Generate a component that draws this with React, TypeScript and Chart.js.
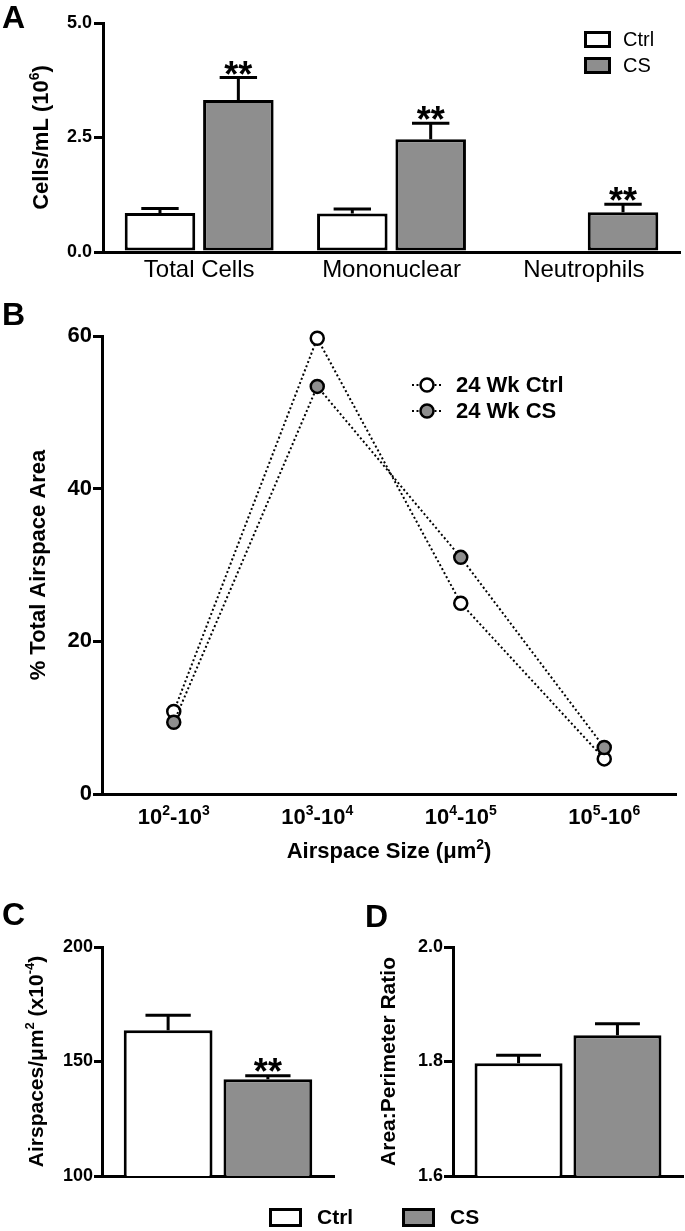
import React, { useEffect, useRef } from "react";
import { Chart, registerables } from "chart.js";

Chart.register(...registerables);

const FONT = '"Liberation Sans", Arial, Helvetica, sans-serif';
const GRAY = "#8e8e8e";
const BLACK = "#000000";

// ---------- Panel A: BAL cell counts ----------
const cellCategories = ["Total Cells", "Mononuclear", "Neutrophils"];
const cellCtrl = [0.85, 0.84, 0];
const cellCtrlErr = [0.1, 0.1, 0];
const cellCS = [3.32, 2.46, 0.87];
const cellCSErr = [0.49, 0.35, 0.17];
const cellCSSig = ["**", "**", "**"];
const cellTicks = [0, 2.5, 5];

// ---------- Panel B: airspace size distribution ----------
const sizeCategories = ["10²-10³", "10³-10⁴", "10⁴-10⁵", "10⁵-10⁶"];
const areaCtrl = [10.8, 59.7, 25.0, 4.6];
const areaCS = [9.4, 53.4, 31.0, 6.1];
const areaTicks = [0, 20, 40, 60];

// ---------- Panel C: airspace density ----------
const singleCategory = [""];
const densityCtrl = [163.7];
const densityCtrlErr = [6.5];
const densityCS = [142.2];
const densityCSErr = [1.6];
const densityCSSig = ["**"];
const densityTicks = [100, 150, 200];

// ---------- Panel D: area:perimeter ratio ----------
const ratioCtrl = [1.797];
const ratioCtrlErr = [0.014];
const ratioCS = [1.846];
const ratioCSErr = [0.02];
const ratioTicks = [1.6, 1.8, 2.0];

const font = (size: number, bold = true) => ({ family: FONT, size, weight: bold ? "bold" : "normal" } as any);

// ---- rich text (superscripts drawn as raised small digits) ----
const SUP: Record<string, string> = {
  "⁰": "0", "¹": "1", "²": "2", "³": "3", "⁴": "4", "⁵": "5",
  "⁶": "6", "⁷": "7", "⁸": "8", "⁹": "9", "⁻": "-",
};

function drawRich(
  ctx: CanvasRenderingContext2D, text: string, x: number, y: number,
  size: number, bold: boolean, align: "center" | "left", rotation = 0
) {
  const segs: { t: string; sup: boolean }[] = [];
  for (const ch of Array.from(text)) {
    const sup = ch in SUP;
    const t = sup ? SUP[ch] : ch;
    const last = segs[segs.length - 1];
    if (last && last.sup === sup) last.t += t;
    else segs.push({ t, sup });
  }
  const baseF = `${bold ? "bold " : ""}${size}px ${FONT}`;
  const supSize = Math.round(size * 0.64);
  const supF = `${bold ? "bold " : ""}${supSize}px ${FONT}`;
  let total = 0;
  const widths = segs.map((s) => {
    ctx.font = s.sup ? supF : baseF;
    const w = ctx.measureText(s.t).width;
    total += w;
    return w;
  });
  ctx.save();
  ctx.translate(x, y);
  ctx.rotate(rotation);
  ctx.fillStyle = BLACK;
  ctx.textAlign = "left";
  ctx.textBaseline = "alphabetic";
  let cx = align === "center" ? -total / 2 : 0;
  const baseY = size * 0.36;
  segs.forEach((s, i) => {
    ctx.font = s.sup ? supF : baseF;
    ctx.fillText(s.t, cx, s.sup ? baseY - size * 0.42 : baseY);
    cx += widths[i];
  });
  ctx.restore();
}

function richAxisText(cfg: {
  yTitle?: { text: string; x: number; size: number };
  xTitle?: { text: string; y: number; size: number };
  xTicks?: { y: number; size: number };
}) {
  return {
    id: "richAxisText",
    afterDraw(chart: any) {
      const ctx = chart.ctx;
      const a = chart.chartArea;
      if (cfg.yTitle) {
        drawRich(ctx, cfg.yTitle.text, cfg.yTitle.x, (a.top + a.bottom) / 2, cfg.yTitle.size, true, "center", -Math.PI / 2);
      }
      if (cfg.xTitle) {
        drawRich(ctx, cfg.xTitle.text, (a.left + a.right) / 2, cfg.xTitle.y, cfg.xTitle.size, true, "center");
      }
      if (cfg.xTicks) {
        const xs = chart.scales.x;
        chart.data.labels.forEach((lab: string, i: number) => {
          drawRich(ctx, lab, xs.getPixelForTick(i), cfg.xTicks!.y, cfg.xTicks!.size, true, "center");
        });
      }
    },
  };
}

function errorBars(cfg: { sigSize: number; sigShift: number; capRatio: number }) {
  return {
    id: "errorBars",
    afterDatasetsDraw(chart: any) {
      const ctx = chart.ctx;
      const yScale = chart.scales.y;
      chart.data.datasets.forEach((ds: any, di: number) => {
        if (!ds.errors) return;
        const meta = chart.getDatasetMeta(di);
        meta.data.forEach((el: any, i: number) => {
          const v = ds.data[i];
          if (v == null) return;
          const e = ds.errors[i] || 0;
          const topY = yScale.getPixelForValue(v + e);
          ctx.save();
          ctx.strokeStyle = BLACK;
          ctx.lineWidth = 3;
          if (e > 0) {
            const half = el.width * cfg.capRatio;
            ctx.beginPath();
            ctx.moveTo(el.x, el.y);
            ctx.lineTo(el.x, topY);
            ctx.moveTo(el.x - half, topY);
            ctx.lineTo(el.x + half, topY);
            ctx.stroke();
          }
          const s = ds.sig ? ds.sig[i] : null;
          if (s) {
            ctx.fillStyle = BLACK;
            ctx.font = `bold ${cfg.sigSize}px ${FONT}`;
            ctx.textAlign = "center";
            ctx.textBaseline = "alphabetic";
            ctx.fillText(s, el.x, topY + cfg.sigShift);
          }
          ctx.restore();
        });
      });
    },
  };
}

function boxLegend(cfg: {
  x: number; y: number; w: number; h: number; dx: number; dy: number;
  gap: number; size: number; bold: boolean;
}) {
  return {
    id: "boxLegend",
    afterDraw(chart: any) {
      const ctx = chart.ctx;
      chart.data.datasets.forEach((ds: any, i: number) => {
        const bx = cfg.x + cfg.dx * i;
        const by = cfg.y + cfg.dy * i;
        ctx.save();
        ctx.fillStyle = ds.backgroundColor;
        ctx.fillRect(bx + 1.5, by + 1.5, cfg.w - 3, cfg.h - 3);
        ctx.strokeStyle = BLACK;
        ctx.lineWidth = 3;
        ctx.strokeRect(bx + 1.5, by + 1.5, cfg.w - 3, cfg.h - 3);
        ctx.fillStyle = BLACK;
        ctx.font = `${cfg.bold ? "bold " : ""}${cfg.size}px ${FONT}`;
        ctx.textAlign = "left";
        ctx.textBaseline = "middle";
        ctx.fillText(ds.label, bx + cfg.w + cfg.gap, by + cfg.h / 2 + 1);
        ctx.restore();
      });
    },
  };
}

function lineLegend(cfg: { x: number; y: number; dy: number; half: number; textX: number; size: number }) {
  return {
    id: "lineLegend",
    afterDraw(chart: any) {
      const ctx = chart.ctx;
      chart.data.datasets.forEach((ds: any, i: number) => {
        const cy = cfg.y + cfg.dy * i;
        ctx.save();
        ctx.strokeStyle = BLACK;
        ctx.lineWidth = ds.borderWidth;
        ctx.setLineDash(ds.borderDash || []);
        ctx.beginPath();
        ctx.moveTo(cfg.x - cfg.half, cy);
        ctx.lineTo(cfg.x + cfg.half, cy);
        ctx.stroke();
        ctx.setLineDash([]);
        ctx.beginPath();
        ctx.arc(cfg.x, cy, ds.pointRadius, 0, Math.PI * 2);
        ctx.fillStyle = ds.pointBackgroundColor;
        ctx.fill();
        ctx.lineWidth = ds.pointBorderWidth;
        ctx.stroke();
        ctx.fillStyle = BLACK;
        ctx.font = `bold ${cfg.size}px ${FONT}`;
        ctx.textAlign = "left";
        ctx.textBaseline = "middle";
        ctx.fillText(ds.label, cfg.textX, cy + 1);
        ctx.restore();
      });
    },
  };
}

function panelLetter(text: string, x: number, y: number) {
  return {
    id: "panelLetter",
    afterDraw(chart: any) {
      const ctx = chart.ctx;
      ctx.save();
      ctx.fillStyle = BLACK;
      ctx.font = `bold 32px ${FONT}`;
      ctx.textAlign = "left";
      ctx.textBaseline = "alphabetic";
      ctx.fillText(text, x, y);
      ctx.restore();
    },
  };
}

function yAxis(o: {
  min: number; max: number; ticks: number[]; width: number; tickSize: number;
  decimals: number; tickLen: number; tickPad: number;
}) {
  return {
    type: "linear",
    min: o.min,
    max: o.max,
    afterBuildTicks: (s: any) => {
      s.ticks = o.ticks.map((v) => ({ value: v }));
    },
    afterFit: (s: any) => {
      s.width = o.width;
    },
    grid: { display: true, drawOnChartArea: false, drawTicks: true, tickLength: o.tickLen, lineWidth: 3, color: BLACK },
    border: { display: true, width: 3, color: BLACK },
    ticks: {
      font: font(o.tickSize),
      color: BLACK,
      padding: o.tickPad,
      callback: (v: any) => Number(v).toFixed(o.decimals),
    },
  };
}

function barDs(label: string, data: number[], errors: number[], sig: string[] | null, color: string, cat: number, bar: number) {
  return {
    label,
    data,
    errors,
    sig,
    backgroundColor: color,
    borderColor: BLACK,
    borderWidth: 3,
    borderSkipped: false,
    categoryPercentage: cat,
    barPercentage: bar,
  } as any;
}

const baseOptions = {
  responsive: false,
  animation: false,
  plugins: { legend: { display: false }, tooltip: { enabled: false } },
};

function configA(): any {
  return {
    type: "bar",
    data: {
      labels: cellCategories,
      datasets: [
        barDs("Ctrl", cellCtrl, cellCtrlErr, null, "#ffffff", 0.815, 0.9),
        barDs("CS", cellCS, cellCSErr, cellCSSig, GRAY, 0.815, 0.9),
      ],
    },
    options: {
      ...baseOptions,
      layout: { padding: { left: 0, right: 5, top: 23, bottom: 0 } },
      scales: {
        x: {
          afterFit: (s: any) => {
            s.height = 38;
          },
          grid: { display: false, drawTicks: false },
          border: { display: true, width: 3, color: BLACK },
          ticks: { font: font(24, false), color: BLACK, padding: 4, maxRotation: 0 },
        },
        y: yAxis({ min: 0, max: 5, ticks: cellTicks, width: 103, tickSize: 18, decimals: 1, tickLen: 9, tickPad: 2 }),
      },
    },
    plugins: [
      errorBars({ sigSize: 36, sigShift: 9, capRatio: 0.265 }),
      boxLegend({ x: 584, y: 31, w: 27, h: 17, dx: 0, dy: 26, gap: 12, size: 20, bold: false }),
      richAxisText({ yTitle: { text: "Cells/mL (10⁶)", x: 40, size: 22 } }),
      panelLetter("A", 2, 28),
    ],
  };
}

function configB(): any {
  const common = {
    borderColor: BLACK,
    borderWidth: 2,
    borderDash: [2, 2.5],
    pointRadius: 6.5,
    pointBorderWidth: 2.5,
    pointBorderColor: BLACK,
    fill: false,
    tension: 0,
    clip: false,
  };
  return {
    type: "line",
    data: {
      labels: sizeCategories,
      datasets: [
        { ...common, label: "24 Wk Ctrl", data: areaCtrl, pointBackgroundColor: "#ffffff", order: 1 },
        { ...common, label: "24 Wk CS", data: areaCS, pointBackgroundColor: GRAY, order: 0 },
      ],
    },
    options: {
      ...baseOptions,
      layout: { padding: { left: 0, right: 8, top: 46, bottom: 0 } },
      scales: {
        x: {
          type: "category",
          offset: true,
          afterFit: (s: any) => {
            s.height = 86;
          },
          grid: { display: false, drawTicks: false },
          border: { display: true, width: 3, color: BLACK },
          ticks: { display: false },
        },
        y: yAxis({ min: 0, max: 60, ticks: areaTicks, width: 102, tickSize: 22, decimals: 0, tickLen: 9, tickPad: 1 }),
      },
    },
    plugins: [
      lineLegend({ x: 427, y: 95, dy: 26, half: 15, textX: 456, size: 22 }),
      richAxisText({
        yTitle: { text: "% Total Airspace Area", x: 37, size: 22 },
        xTitle: { text: "Airspace Size (μm²)", y: 560, size: 22 },
        xTicks: { y: 526, size: 22 },
      }),
      panelLetter("B", 2, 35),
    ],
  };
}

function configC(): any {
  return {
    type: "bar",
    data: {
      labels: singleCategory,
      datasets: [
        barDs("Ctrl", densityCtrl, densityCtrlErr, null, "#ffffff", 0.86, 0.89),
        barDs("CS", densityCS, densityCSErr, densityCSSig, GRAY, 0.86, 0.89),
      ],
    },
    options: {
      ...baseOptions,
      layout: { padding: { left: 0, right: 351, top: 67, bottom: 0 } },
      scales: {
        x: {
          afterFit: (s: any) => {
            s.height = 55;
          },
          grid: { display: false, drawTicks: false },
          border: { display: true, width: 3, color: BLACK },
          ticks: { display: false },
        },
        y: yAxis({ min: 100, max: 200, ticks: densityTicks, width: 102, tickSize: 18, decimals: 0, tickLen: 8, tickPad: 1 }),
      },
    },
    plugins: [
      errorBars({ sigSize: 36, sigShift: 8, capRatio: 0.255 }),
      boxLegend({ x: 269, y: 328, w: 33, h: 19, dx: 133, dy: 0, gap: 15, size: 21, bold: true }),
      richAxisText({ yTitle: { text: "Airspaces/μm² (x10⁻⁴)", x: 35, size: 21 } }),
      panelLetter("C", 2, 45),
    ],
  };
}

function configD(): any {
  return {
    type: "bar",
    data: {
      labels: singleCategory,
      datasets: [
        barDs("Ctrl", ratioCtrl, ratioCtrlErr, null, "#ffffff", 0.86, 0.89),
        barDs("CS", ratioCS, ratioCSErr, null, GRAY, 0.86, 0.89),
      ],
    },
    options: {
      ...baseOptions,
      layout: { padding: { left: 0, right: 2, top: 67, bottom: 0 } },
      scales: {
        x: {
          afterFit: (s: any) => {
            s.height = 55;
          },
          grid: { display: false, drawTicks: false },
          border: { display: true, width: 3, color: BLACK },
          ticks: { display: false },
        },
        y: yAxis({ min: 1.6, max: 2.0, ticks: ratioTicks, width: 113, tickSize: 18, decimals: 1, tickLen: 9, tickPad: 1 }),
      },
    },
    plugins: [
      errorBars({ sigSize: 36, sigShift: 8, capRatio: 0.255 }),
      richAxisText({ yTitle: { text: "Area:Perimeter Ratio", x: 47, size: 21 } }),
      panelLetter("D", 25, 47),
    ],
  };
}

export default function App() {
  const aRef = useRef<HTMLCanvasElement>(null);
  const bRef = useRef<HTMLCanvasElement>(null);
  const cRef = useRef<HTMLCanvasElement>(null);
  const dRef = useRef<HTMLCanvasElement>(null);

  useEffect(() => {
    Chart.defaults.font.family = FONT;
    Chart.defaults.color = BLACK;
    const charts = [
      new Chart(aRef.current as HTMLCanvasElement, configA()),
      new Chart(bRef.current as HTMLCanvasElement, configB()),
      new Chart(cRef.current as HTMLCanvasElement, configC()),
      new Chart(dRef.current as HTMLCanvasElement, configD()),
    ];
    return () => charts.forEach((c) => c.destroy());
  }, []);

  const abs = (left: number, top: number, width: number, height: number) => ({
    position: "absolute" as const,
    left,
    top,
    width,
    height,
  });

  return (
    <div style={{ position: "absolute", left: 0, top: 0, width: 685, height: 1231, background: "#ffffff", overflow: "hidden" }}>
      <canvas ref={aRef} width={685} height={290} style={abs(0, 0, 685, 290)} />
      <canvas ref={bRef} width={685} height={590} style={abs(0, 290, 685, 590)} />
      <canvas ref={cRef} width={685} height={351} style={abs(0, 880, 685, 351)} />
      <canvas ref={dRef} width={345} height={351} style={abs(340, 880, 345, 351)} />
    </div>
  );
}
